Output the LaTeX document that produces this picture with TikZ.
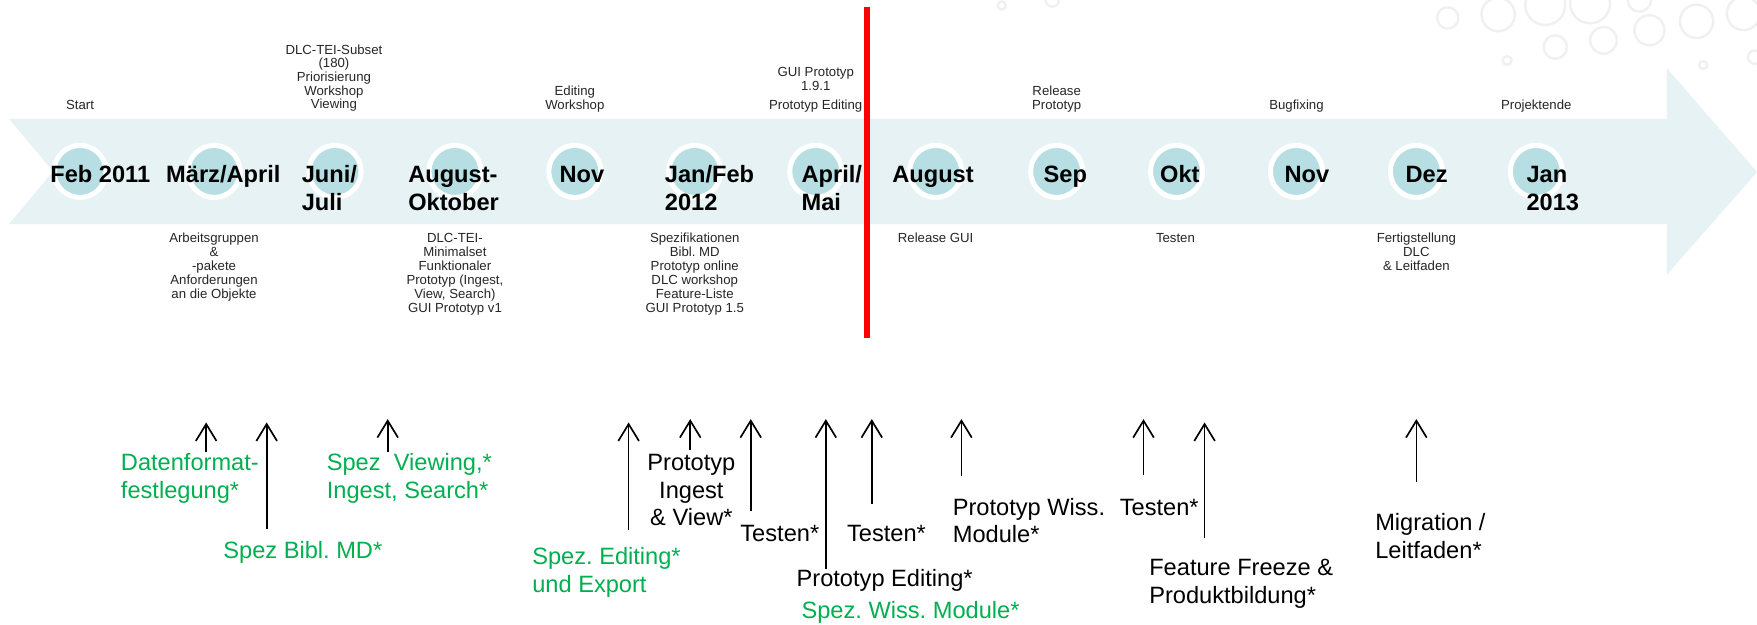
\documentclass[tikz,border=0pt]{standalone}
\usepackage{fontspec}
\setmainfont{Liberation Sans}
\usetikzlibrary{arrows.meta}
\definecolor{bandc}{HTML}{E6F2F4}
\definecolor{dotc}{HTML}{B7DEE2}
\definecolor{specgreen}{HTML}{00B050}
\definecolor{bubc}{HTML}{F0F0F0}
\newcommand\mystack[3]{\begin{tabular}[#1]{@{}#2@{}}#3\end{tabular}}
\tikzset{
  ring/.style={circle, fill=dotc, draw=white, line width=0.09cm, minimum size=0.93cm, inner sep=0pt},
  month/.style={anchor=base west, inner sep=0pt, font=\fontsize{12}{14.2}\selectfont\bfseries},
  toplbl/.style={anchor=base, inner sep=0pt, text=black!85, font=\fontsize{6.7}{6.9}\selectfont},
  botlbl/.style={anchor=base, inner sep=0pt, text=black!85, font=\fontsize{6.7}{7.1}\selectfont},
  note/.style={anchor=base west, inner sep=0pt, font=\fontsize{12}{14.2}\selectfont},
  gnote/.style={note, text=specgreen},
  uparrow/.style={line width=0.85pt, -{Straight Barb[length=8.6pt,width=10.5pt,line width=0.85pt]}},
  bubble/.style={draw=bubc, line width=1.2pt},
}
\begin{document}
\frenchspacing
\begin{tikzpicture}[x=0.02cm,y=-0.02cm]
\fill[white] (0,0) rectangle (1568,557);
\useasboundingbox (0,0) rectangle (1568,557);

% background bubbles
\foreach \bx/\by/\br in {1292/16/9.5, 1337/13/14.9, 1379/4.5/17.8, 1419/3/17.8, 1463/0/10.4, 1472/27/13.4, 1431/36/11.9, 1388/42/10.4, 1345/54/3.9, 1514/19/14.9, 1556/12/14.9, 1520/58/3.6, 1566/51/6, 894/5/3.6, 939/0/6}
  \draw[bubble] (\bx,\by) circle [radius=\br];

% band arrow
\fill[bandc] (8,106) -- (1487.6,106) -- (1487.6,61) -- (1568,153.5) -- (1487.6,245) -- (1487.6,200) -- (8,200) -- (47.5,153) -- cycle;

% circles
\node[ring] (c1) at (71.4,153) {};
\node[ring] (c2) at (191,153) {};
\node[ring] (c3) at (299,153) {};
\node[ring] (c4) at (406,153) {};
\node[ring] (c5) at (513,153) {};
\node[ring] (c6) at (620,153) {};
\node[ring] (c7) at (728,153) {};
\node[ring] (c8) at (835,153) {};
\node[ring] (c9) at (943,153) {};
\node[ring] (c10) at (1050,153) {};
\node[ring] (c11) at (1157,153) {};
\node[ring] (c12) at (1264,153) {};
\node[ring] (c13) at (1371,153) {};

% month labels
\node[month] (m1) at (44.6,162.5) {Feb 2011};
\node[month] (m2) at (148,162.5) {März/April};
\node[month] (m3) at (269,162.5) {\mystack{t}{l}{Juni/\\Juli}};
\node[month] (m4) at (364,162.5) {\mystack{t}{l}{August-\\Oktober}};
\node[month] (m5) at (499,162.5) {Nov};
\node[month] (m6) at (593,162.5) {\mystack{t}{l}{Jan/Feb\\2012}};
\node[month] (m7) at (715,162.5) {\mystack{t}{l}{April/\\Mai}};
\node[month] (m8) at (796,162.5) {August};
\node[month] (m9) at (931,162.5) {Sep};
\node[month] (m10) at (1035,162.5) {Okt};
\node[month] (m11) at (1146,162.5) {Nov};
\node[month] (m12) at (1254,162.5) {Dez};
\node[month] (m13) at (1362,162.5) {\mystack{t}{l}{Jan\\2013}};

% labels above the band
\node[toplbl] (t1) at (71.4,97.5) {Start};
\node[toplbl] (t3) at (298,97) {\mystack{b}{c}{DLC-TEI-Subset\\(180)\\Priorisierung\\Workshop\\Viewing}};
\node[toplbl] (t5) at (513,97.5) {\mystack{b}{c}{Editing\\Workshop}};
\node[toplbl] (t7) at (728,97.5) {\mystack{b}{c}{GUI Prototyp\\1.9.1\\[2.7pt]Prototyp Editing}};
\node[toplbl] (t9) at (943,97.5) {\mystack{b}{c}{Release\\Prototyp}};
\node[toplbl] (t11) at (1157,97.5) {Bugfixing};
\node[toplbl] (t13) at (1371,97.5) {Projektende};

% labels below the band
\node[botlbl] (b2) at (191,216.5) {\mystack{t}{c}{Arbeitsgruppen\\\&\\-pakete\\Anforderungen\\an die Objekte}};
\node[botlbl] (b4) at (406,216.5) {\mystack{t}{c}{DLC-TEI-\\Minimalset\\Funktionaler\\Prototyp (Ingest,\\View, Search)\\GUI Prototyp v1}};
\node[botlbl] (b6) at (620,216.5) {\mystack{t}{c}{Spezifikationen\\Bibl. MD\\Prototyp online\\DLC workshop\\Feature-Liste\\GUI Prototyp 1.5}};
\node[botlbl] (b8) at (835,216.5) {Release GUI};
\node[botlbl] (b10) at (1049,216.5) {Testen};
\node[botlbl] (b12) at (1264,216.5) {\mystack{t}{c}{Fertigstellung\\DLC\\\& Leitfaden}};

% red "today" line
\fill[red] (771,6) rectangle (776.5,302);

% lower annotations
\node[gnote] (n1) at (107.6,420) {\mystack{t}{l}{Datenformat-\\festlegung*}};
\node[gnote] (n2) at (199,498.8) {Spez Bibl. MD*};
\node[gnote] (n3) at (291.3,420) {\mystack{t}{l}{Spez\ \ Viewing,*\\Ingest, Search*}};
\node[gnote] (n4) at (474.7,503.6) {\mystack{t}{l}{Spez. Editing*\\und Export}};
\node[note, anchor=base] (n5) at (617,419.5) {\mystack{t}{c}{Prototyp\\Ingest\\\& View*}};
\node[note] (n6) at (660.4,483.4) {Testen*};
\node[note] (n7) at (710.6,523.5) {Prototyp Editing*};
\node[gnote] (n7b) at (715,551.8) {Spez. Wiss. Module*};
\node[note] (n8) at (755.6,483.4) {Testen*};
\node[note] (n9) at (850,459.6) {\mystack{t}{l}{Prototyp Wiss.\\Module*}};
\node[note] (n10) at (999,459.6) {Testen*};
\node[note] (n11) at (1025.3,514) {\mystack{t}{l}{Feature Freeze \&\\Produktbildung*}};
\node[note] (n12) at (1227,473.6) {\mystack{t}{l}{Migration /\\Leitfaden*}};

% arrow end points
\coordinate (a1b) at (184,403);   \coordinate (a1t) at (184,377);
\coordinate (a2b) at (238,472);   \coordinate (a2t) at (238,377);
\coordinate (a3b) at (346,403);   \coordinate (a3t) at (346,374);
\coordinate (a4b) at (561,473);   \coordinate (a4t) at (561,377);
\coordinate (a5b) at (616,402);   \coordinate (a5t) at (616,374);
\coordinate (a6b) at (670,456);   \coordinate (a6t) at (670,374);
\coordinate (a7b) at (737,508);   \coordinate (a7t) at (737,374);
\coordinate (a8b) at (778,450);   \coordinate (a8t) at (778,374);
\coordinate (a9b) at (858,425);   \coordinate (a9t) at (858,374);
\coordinate (a10b) at (1020.5,424); \coordinate (a10t) at (1020.5,374);
\coordinate (a11b) at (1075,480); \coordinate (a11t) at (1075,377);
\coordinate (a12b) at (1264,430); \coordinate (a12t) at (1264,374);

\foreach \i in {1,...,12}
  \draw[uparrow] (a\i b) -- (a\i t);
\end{tikzpicture}
\end{document}
